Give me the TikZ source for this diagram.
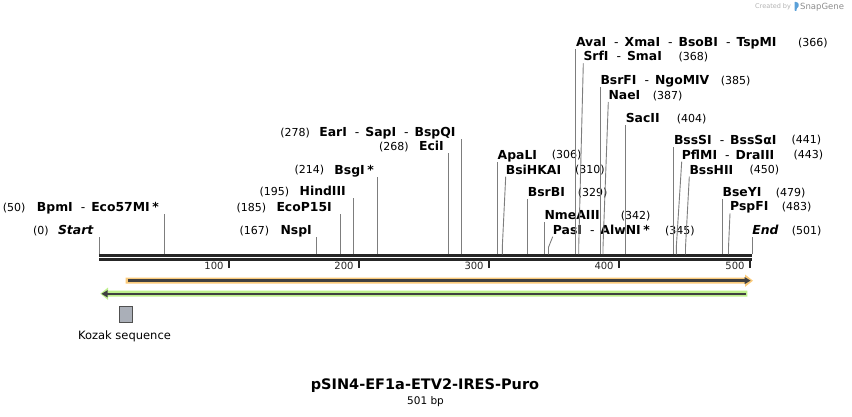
\documentclass[tikz,border=0pt]{standalone}
\usepackage{fontspec}
\setmainfont{DejaVu Sans}
\usetikzlibrary{positioning}
\definecolor{bbone}{RGB}{38,38,38}
\definecolor{cutgray}{RGB}{125,125,125}
\definecolor{orangef}{RGB}{250,202,122}
\definecolor{greenf}{RGB}{190,240,140}
\definecolor{featline}{RGB}{64,64,64}
\definecolor{kozakfill}{RGB}{170,175,184}
\definecolor{kozakedge}{RGB}{80,80,80}
\definecolor{logoblue}{RGB}{90,160,216}
\tikzset{enz/.style={font=\bfseries\fontsize{12.4}{13}\selectfont,inner sep=0pt,anchor=west,text height=10.8pt,text depth=2.2pt},
bpnum/.style={font=\fontsize{11}{12}\selectfont,inner sep=0pt,anchor=west,text height=9.9pt,text depth=1.9pt},
cut/.style={draw=cutgray,line width=0.9pt},
ticklbl/.style={font=\fontsize{10}{12}\selectfont,inner sep=0pt,anchor=east}}
\newcommand{\dsh}{\hspace{8pt}{\mdseries-}\hspace{6pt}}
\newcommand{\starmk}{\hspace{2.5pt}*}

\begin{document}
\begin{tikzpicture}[x=1pt,y=-1pt]
\useasboundingbox (0,0) rectangle (852,417);

% backbone
\coordinate (bb-l) at (99.3,255.6);
\coordinate (bb-r) at (752.3,255.6);
\draw[bbone,line width=2.7pt] (bb-l)--(bb-r);
\draw[bbone,line width=2.4pt] ([yshift=-3.9pt]bb-l)--([yshift=-3.9pt]bb-r);
\foreach \b/\x in {100/228.7,200/358.7,300/488.8,400/618.8,500/749.7}
  \draw[bbone,line width=2.4pt] (\x,258)--(\x,267.5) (\x-4,266.3)node[ticklbl](t\b){\b};

% sites with the label on the left
\coordinate (s-start) at (99.3,254.3);
\coordinate (s-bpmi) at (164.4,254.3);
\coordinate (s-nspi) at (316.8,254.3);
\coordinate (s-ecop) at (340.3,254.3);
\coordinate (s-hind) at (353.3,254.3);
\coordinate (s-bsgi) at (377.5,254.3);
\coordinate (s-ecii) at (448.4,254.3);
\coordinate (s-eari) at (461.4,254.3);
\node[enz,anchor=east] (n-start) at (93.5,230) {\itshape Start};
\node[enz,anchor=east] (n-bpmi) at (159,207.5) {BpmI\dsh Eco57MI\starmk};
\node[enz,anchor=east] (n-nspi) at (312,230) {NspI};
\node[enz,anchor=east] (n-ecop) at (332,207.3) {EcoP15I};
\node[enz,anchor=east] (n-hind) at (346,191.7) {HindIII};
\node[enz,anchor=east] (n-bsgi) at (374,170) {BsgI\starmk};
\node[enz,anchor=east] (n-ecii) at (444,146.7) {EciI};
\node[enz,anchor=east] (n-eari) at (455.7,132.3) {EarI\dsh SapI\dsh BspQI};
\node[bpnum,left=9pt of n-start] (p-start) {(0)};
\node[bpnum,left=11pt of n-bpmi] (p-bpmi) {(50)};
\node[bpnum,left=11pt of n-nspi] (p-nspi) {(167)};
\node[bpnum,left=10pt of n-ecop] (p-ecop) {(185)};
\node[bpnum,left=10pt of n-hind] (p-hind) {(195)};
\node[bpnum,left=10pt of n-bsgi] (p-bsgi) {(214)};
\node[bpnum,left=10pt of n-ecii] (p-ecii) {(268)};
\node[bpnum,left=9pt of n-eari] (p-eari) {(278)};
\draw[cut] (s-start)--(s-start|-n-start.south) (s-bpmi)--(s-bpmi|-n-bpmi.south)
(s-nspi)--(s-nspi|-n-nspi.south) (s-ecop)--(s-ecop|-n-ecop.south)
(s-hind)--(s-hind|-n-hind.south) (s-bsgi)--(s-bsgi|-n-bsgi.south)
(s-ecii)--(s-ecii|-n-ecii.south) (s-eari)--(s-eari|-n-eari.south);

% sites with the label on the right
\coordinate (s-apal) at (497.5,254.3);
\coordinate (s-bsih) at (502.3,254.3);
\coordinate (s-bsrb) at (527.7,254.3);
\coordinate (s-nmea) at (544.4,254.3);
\coordinate (s-pasi) at (548.5,254.3);
\coordinate (s-avai) at (575.8,254.3);
\coordinate (s-srfi) at (578.7,254.3);
\coordinate (s-bsrf) at (600.3,254.3);
\coordinate (s-naei) at (603,254.3);
\coordinate (s-sacii) at (625.6,254.3);
\coordinate (s-bsss) at (673.8,254.3);
\coordinate (s-pflm) at (676.3,254.3);
\coordinate (s-bssh) at (685.5,254.3);
\coordinate (s-bsey) at (722.4,254.3);
\coordinate (s-pspf) at (728.5,254.3);
\coordinate (s-end) at (752.2,254.3);
\node[enz] (n-apal) at (497.5,155) {ApaLI};
\node[enz] (n-bsih) at (505.7,170) {BsiHKAI};
\node[enz] (n-bsrb) at (527.7,192.3) {BsrBI};
\node[enz] (n-nmea) at (544.4,215.3) {NmeAIII};
\node[enz] (n-pasi) at (552.7,230) {PasI\dsh AlwNI\starmk};
\node[enz] (n-avai) at (575.8,42.3) {AvaI\dsh XmaI\dsh BsoBI\dsh TspMI};
\node[enz] (n-srfi) at (583.3,56.7) {SrfI\dsh SmaI};
\node[enz] (n-bsrf) at (600.3,80.7) {BsrFI\dsh NgoMIV};
\node[enz] (n-naei) at (608.3,95.3) {NaeI};
\node[enz] (n-sacii) at (625.6,118.3) {SacII};
\node[enz] (n-bsss) at (673.8,140) {BssSI\dsh BssSαI};
\node[enz] (n-pflm) at (681.7,155) {PflMI\dsh DraIII};
\node[enz] (n-bssh) at (689.3,170) {BssHII};
\node[enz] (n-bsey) at (722.4,192.3) {BseYI};
\node[enz] (n-pspf) at (730,206.7) {PspFI};
\node[enz] (n-end) at (752.2,230) {\itshape End};
\node[bpnum] (p-apal) at (551.7,155) {(306)};
\node[bpnum] (p-bsih) at (575,170) {(310)};
\node[bpnum] (p-bsrb) at (577.7,192.3) {(329)};
\node[bpnum] (p-nmea) at (620.7,215.3) {(342)};
\node[bpnum] (p-pasi) at (665,230) {(345)};
\node[bpnum] (p-avai) at (798,42.3) {(366)};
\node[bpnum] (p-srfi) at (678.3,56.7) {(368)};
\node[bpnum] (p-bsrf) at (720.7,80.7) {(385)};
\node[bpnum] (p-naei) at (652.7,95.3) {(387)};
\node[bpnum] (p-sacii) at (676.7,118.3) {(404)};
\node[bpnum] (p-bsss) at (791.3,140) {(441)};
\node[bpnum] (p-pflm) at (793.3,155) {(443)};
\node[bpnum] (p-bssh) at (749.3,170) {(450)};
\node[bpnum] (p-bsey) at (775.7,192.3) {(479)};
\node[bpnum] (p-pspf) at (781.7,206.7) {(483)};
\node[bpnum] (p-end) at (791.7,230) {(501)};
\draw[cut] (s-apal)--(n-apal.south west) (s-bsrb)--(n-bsrb.south west)
(s-nmea)--(n-nmea.south west) (s-avai)--(n-avai.south west)
(s-bsrf)--(n-bsrf.south west) (s-sacii)--(n-sacii.south west)
(s-bsss)--(n-bsss.south west) (s-bsey)--(n-bsey.south west) (s-end)--(n-end.south west);
\draw[cut] (s-bsih)--++(0,-7)--(n-bsih.south west) (s-pasi)--++(0,-7)--(n-pasi.south west)
(s-srfi)--++(0,-7)--(n-srfi.south west) (s-naei)--++(0,-7)--(n-naei.south west)
(s-pflm)--++(0,-7)--(n-pflm.south west) (s-bssh)--++(0,-7)--(n-bssh.south west)
(s-pspf)--++(0,-7)--(n-pspf.south west);

% features
\fill[orangef] (125.7,277.7)--(745,277.7)--(745,274.5)--(753,280.7)--(745,286.9)--(745,283.7)--(125.7,283.7)--cycle;
\draw[featline,line width=2.4pt] (128.3,280.6)--(746,280.6);
\fill[featline] (744.5,277)--(750.5,280.6)--(744.5,284.2)--cycle;
\fill[greenf] (747.3,290.7)--(108,290.7)--(108,287.5)--(100.3,293.7)--(108,299.9)--(108,296.7)--(747.3,296.7)--cycle;
\draw[featline,line width=2.4pt] (745.5,293.8)--(106,293.8);
\fill[featline] (107.5,290.2)--(101.5,293.8)--(107.5,297.4)--cycle;

\node[draw=kozakedge,fill=kozakfill,line width=0.8pt,inner sep=0pt,minimum width=13.4pt,minimum height=16.3pt] (kozak) at (126,314.2) {};
\node[font=\fontsize{11.5}{13}\selectfont,inner sep=0pt] (kozak-lbl) at (124.5,336) {Kozak sequence};

\node[font=\bfseries\fontsize{14.5}{16}\selectfont,inner sep=0pt] (title) at (425,385.7) {pSIN4-EF1a-ETV2-IRES-Puro};
\node[font=\fontsize{10.5}{12}\selectfont,inner sep=0pt] (bp) at (425.5,401.7) {501 bp};

% watermark
\node[anchor=west,font=\fontsize{6.5}{7}\selectfont,text=black!30,inner sep=0pt] (made) at (755,7) {Created by};
\fill[logoblue,rounded corners=0.8pt] (794.5,11)--(794.5,1.5)--(798.5,3)--(798.5,7.2)--(796.6,8.2)--(796.6,11)--cycle;
\node[anchor=west,font=\fontsize{8.5}{9}\selectfont,text=black!45,inner sep=0pt] (sg) at (800,7) {SnapGene};
\end{tikzpicture}
\end{document}
